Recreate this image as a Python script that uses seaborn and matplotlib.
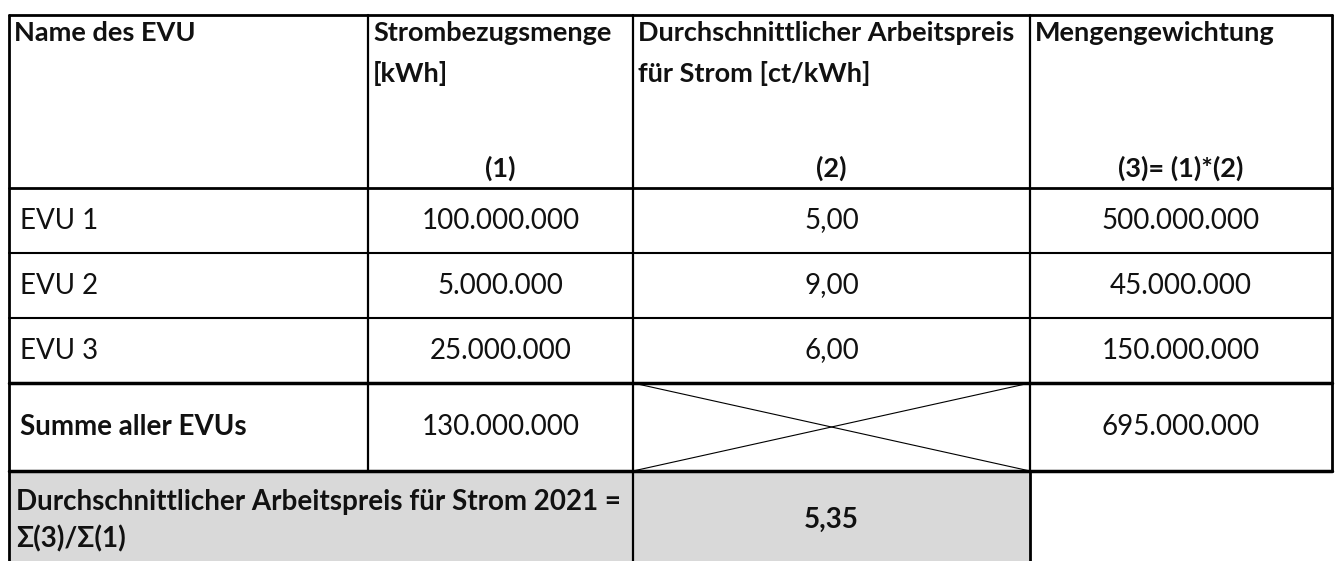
import numpy as np
import pandas as pd
import matplotlib
matplotlib.use("Agg")
import matplotlib.pyplot as plt
from matplotlib.patches import Rectangle
import seaborn as sns

# table content
header_l1 = ["Name des EVU", "Strombezugsmenge", "Durchschnittlicher Arbeitspreis", "Mengengewichtung"]
header_l2 = ["", "[kWh]", "für Strom [ct/kWh]", ""]
header_sub = ["", "(1)", "(2)", "(3)= (1)*(2)"]
evu_names = ["EVU 1", "EVU 2", "EVU 3"]
menge = [100000000, 5000000, 25000000]
preis = [5.00, 9.00, 6.00]
gewichtung = [500000000, 45000000, 150000000]
summe_label = "Summe aller EVUs"
summe_menge = 130000000
summe_gewichtung = 695000000
result_label = ["Durchschnittlicher Arbeitspreis für Strom 2021 =", "Σ(3)/Σ(1)"]
result_value = 5.35


def de_int(v):
    return f"{v:,}".replace(",", ".")


def de_dec(v):
    return f"{v:.2f}".replace(".", ",")


sns.set_theme(style="white")
plt.rcParams["font.family"] = ["Lato", "DejaVu Sans"]

# grid in pixel coordinates
xs = [9, 368, 633, 1030, 1332]
ys = [15, 188, 253, 318, 383, 471, 561]

fig = plt.figure(figsize=(13.38, 5.61), dpi=100)
ax = fig.add_axes([0, 0, 1, 1])
ax.set_xlim(0, 1338)
ax.set_ylim(561, 0)
ax.axis("off")

fs = 20
fsh = 19.5
tc = "#111111"
k = "black"

# grey result row
ax.add_patch(Rectangle((xs[0], ys[5]), xs[3] - xs[0], ys[6] - ys[5],
                       facecolor="#d9d9d9", edgecolor="none", zorder=0))

# horizontal lines
ax.plot([xs[0], xs[4]], [ys[0], ys[0]], color=k, lw=2.0)
ax.plot([xs[0], xs[4]], [ys[1], ys[1]], color=k, lw=2.0)
for y in ys[2:4]:
    ax.plot([xs[0], xs[4]], [y, y], color=k, lw=1.5)
ax.plot([xs[0], xs[4]], [ys[4], ys[4]], color=k, lw=2.5)
ax.plot([xs[0], xs[4]], [ys[5], ys[5]], color=k, lw=2.5)

# vertical lines
ax.plot([xs[0], xs[0]], [ys[0], ys[6]], color=k, lw=2.0)
ax.plot([xs[4], xs[4]], [ys[0], ys[5]], color=k, lw=2.0)
for x in xs[1:4]:
    ax.plot([x, x], [ys[0], ys[5]], color=k, lw=1.6)
ax.plot([xs[2], xs[2]], [ys[5], ys[6]], color=k, lw=1.6)
ax.plot([xs[3], xs[3]], [ys[5], ys[6]], color=k, lw=2.0)

# crossed cell
ax.plot([xs[2], xs[3]], [ys[4], ys[5]], color=k, lw=0.8)
ax.plot([xs[2], xs[3]], [ys[5], ys[4]], color=k, lw=0.8)

# header
for i in range(4):
    ax.text(xs[i] + 5, 33, header_l1[i], ha="left", va="center", fontsize=fsh,
            fontweight="bold", color=tc)
    if header_l2[i]:
        ax.text(xs[i] + 5, 73, header_l2[i], ha="left", va="center", fontsize=fsh,
                fontweight="bold", color=tc)
    if header_sub[i]:
        ax.text((xs[i] + xs[i + 1]) / 2, 168, header_sub[i], ha="center", va="center",
                fontsize=fsh, fontweight="bold", color=tc)

# body rows
for r, name in enumerate(evu_names):
    yc = (ys[r + 1] + ys[r + 2]) / 2
    ax.text(xs[0] + 11, yc, name, ha="left", va="center", fontsize=fs, color=tc)
    ax.text((xs[1] + xs[2]) / 2, yc, de_int(menge[r]), ha="center", va="center",
            fontsize=fs, color=tc)
    ax.text((xs[2] + xs[3]) / 2, yc, de_dec(preis[r]), ha="center", va="center",
            fontsize=fs, color=tc)
    ax.text((xs[3] + xs[4]) / 2, yc, de_int(gewichtung[r]), ha="center", va="center",
            fontsize=fs, color=tc)

yc = (ys[4] + ys[5]) / 2
ax.text(xs[0] + 11, yc, summe_label, ha="left", va="center", fontsize=fs,
        fontweight="bold", color=tc)
ax.text((xs[1] + xs[2]) / 2, yc, de_int(summe_menge), ha="center", va="center",
        fontsize=fs, color=tc)
ax.text((xs[3] + xs[4]) / 2, yc, de_int(summe_gewichtung), ha="center", va="center",
        fontsize=fs, color=tc)

ax.text(xs[0] + 7, 502, result_label[0], ha="left", va="center", fontsize=fs,
        fontweight="bold", color=tc)
ax.text(xs[0] + 7, 539, result_label[1], ha="left", va="center", fontsize=fs,
        fontweight="bold", color=tc)
ax.text((xs[2] + xs[3]) / 2, 520, de_dec(result_value), ha="center", va="center",
        fontsize=fs, fontweight="bold", color=tc)

fig.savefig("out.png", dpi=100)
